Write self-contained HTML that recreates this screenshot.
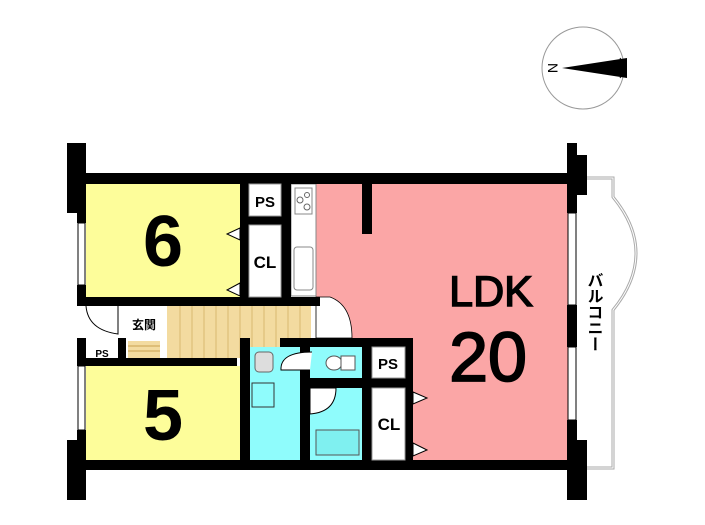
<!DOCTYPE html>
<html><head><meta charset="utf-8"><style>body{margin:0;background:#fff}svg{display:block}text{font-family:"Liberation Sans","Noto Sans CJK JP",sans-serif;font-weight:bold}</style></head><body>
<svg width="705" height="525" viewBox="0 0 705 525">
<!-- compass -->
<circle cx="583" cy="68" r="41" fill="#fff" stroke="#999" stroke-width="1"/>
<polygon points="562,68 627,58 627,78" fill="#000"/>
<path d="M620,58 Q626,68 620,78" fill="none" stroke="#000"/>
<text x="548" y="68" font-size="14" font-family="Liberation Serif" transform="rotate(90 548 68)" text-anchor="middle" style="font-weight:normal">N</text>
<!-- balcony -->
<path d="M587,178 H613 V197 Q636,225 636,253 Q636,282 613,310 V468 H587" fill="#fff" stroke="#aaa" stroke-width="3"/>
<path d="M587,178 H613 V197 Q636,225 636,253 Q636,282 613,310 V468 H587" fill="none" stroke="#fff" stroke-width="1"/>
<!-- rooms -->
<rect x="86" y="184" width="154" height="113" fill="#fdfd9a"/>
<rect x="86" y="366" width="154" height="94" fill="#fdfd9a"/>
<rect x="316" y="184" width="252" height="276" fill="#fba6a6"/>
<path d="M316,297 H330 Q352,305 352,338 H316 Z" fill="#fff" stroke="#000" stroke-width="0.8"/>
<rect x="167" y="306" width="144" height="52" fill="#f3dba0"/>
<g stroke="#d8b870" stroke-width="1">
<line x1="180" y1="306" x2="180" y2="358"/><line x1="192" y1="306" x2="192" y2="358"/><line x1="204" y1="306" x2="204" y2="358"/><line x1="216" y1="306" x2="216" y2="358"/><line x1="228" y1="306" x2="228" y2="358"/><line x1="240" y1="306" x2="240" y2="358"/><line x1="252" y1="306" x2="252" y2="358"/><line x1="264" y1="306" x2="264" y2="358"/><line x1="276" y1="306" x2="276" y2="358"/><line x1="288" y1="306" x2="288" y2="358"/><line x1="300" y1="306" x2="300" y2="358"/></g>
<rect x="128" y="341" width="32" height="17" fill="#f3dba0"/>
<g stroke="#c9a050"><line x1="128" y1="346" x2="160" y2="346"/><line x1="128" y1="351" x2="160" y2="351"/></g>
<rect x="250" y="347" width="50" height="113" fill="#8ffcfc"/>
<rect x="310" y="347" width="52" height="31" fill="#8ffcfc"/>
<rect x="310" y="388" width="52" height="72" fill="#8ffcfc"/>
<rect x="316" y="430" width="43" height="25" fill="#7ff0f0" stroke="#555"/>
<!-- kitchen -->
<rect x="291" y="184" width="25" height="112" fill="#fff" stroke="#888"/>
<rect x="295" y="188" width="17" height="26" fill="#fff" stroke="#888"/>
<circle cx="300" cy="200" r="3" fill="none" stroke="#666"/><circle cx="307" cy="195" r="2.5" fill="none" stroke="#666"/><circle cx="307" cy="207" r="3" fill="none" stroke="#666"/>
<rect x="294" y="247" width="19" height="43" rx="3" fill="#fff" stroke="#888"/>
<!-- walls -->
<g fill="#000">
<rect x="77" y="173" width="500" height="11"/>
<rect x="67" y="143" width="19" height="70"/>
<rect x="77" y="213" width="9" height="10"/>
<rect x="77" y="285" width="9" height="20"/>
<rect x="77" y="297" width="200" height="9"/>
<rect x="240" y="184" width="9" height="121"/>
<rect x="249" y="216" width="32" height="9"/>
<rect x="281" y="184" width="10" height="121"/>
<rect x="240" y="297" width="80" height="9"/>
<rect x="362" y="184" width="10" height="50"/>
<rect x="77" y="338" width="9" height="28"/>
<rect x="118" y="338" width="8" height="20"/>
<rect x="77" y="358" width="160" height="8"/>
<rect x="240" y="338" width="10" height="122"/>
<rect x="280" y="338" width="132" height="9"/>
<rect x="300" y="347" width="10" height="113"/>
<rect x="300" y="378" width="105" height="10"/>
<rect x="362" y="347" width="10" height="113"/>
<rect x="405" y="338" width="8" height="122"/>
<rect x="77" y="460" width="500" height="10"/>
<rect x="67" y="440" width="19" height="60"/>
<rect x="77" y="430" width="9" height="12"/>
<rect x="567" y="143" width="10" height="70"/>
<rect x="567" y="155" width="20" height="40"/>
<rect x="567" y="305" width="10" height="42"/>
<rect x="567" y="440" width="20" height="60"/>
<rect x="567" y="420" width="10" height="40"/>
</g>
<!-- windows -->
<g fill="#fff" stroke="#000" stroke-width="1">
<rect x="78" y="223" width="7" height="62"/><rect x="78" y="366" width="7" height="64"/>
<rect x="568" y="213" width="8" height="92"/><rect x="568" y="347" width="8" height="73"/>
<line x1="181" y1="299" x2="205" y2="299" stroke-dasharray="2,1"/><line x1="181" y1="364" x2="205" y2="364" stroke-dasharray="2,1"/>
</g>
<!-- white boxes -->
<g fill="#fff" stroke="#999"><rect x="249" y="184" width="32" height="32"/><rect x="249" y="225" width="32" height="72"/><rect x="372" y="347" width="33" height="31"/><rect x="372" y="388" width="33" height="72"/></g>
<!-- closet door triangles -->
<g fill="#fff" stroke="#000"><polygon points="240,228 227,234 240,240"/><polygon points="240,283 227,290 240,296"/><polygon points="413,392 427,398 413,404"/><polygon points="413,443 427,450 413,456"/></g>
<!-- doors -->
<path d="M86,306 Q88,330 118,334 V306" fill="#fff" stroke="#000"/>
<path d="M312,352 Q280,352 281,370 H310" fill="#fff" stroke="#000"/>
<path d="M310,388 H336 Q336,412 310,414 Z" fill="#fff" stroke="#000"/>
<rect x="255" y="352" width="18" height="20" rx="4" fill="#ddd" stroke="#666"/>
<rect x="252" y="383" width="22" height="24" fill="none" stroke="#333"/>
<ellipse cx="334" cy="363" rx="8" ry="7" fill="#fff" stroke="#555"/><rect x="341" y="356" width="14" height="14" fill="#fff" stroke="#555"/>
<!-- labels -->
<text x="163" y="266" font-size="72" text-anchor="middle">6</text>
<text x="163" y="440" font-size="72" text-anchor="middle">5</text>
<text x="265" y="207" font-size="15" text-anchor="middle">PS</text>
<text x="265" y="268" font-size="17" text-anchor="middle">CL</text>
<text x="388" y="369" font-size="15" text-anchor="middle">PS</text>
<text x="389" y="430" font-size="17" text-anchor="middle">CL</text>
<text x="102" y="357" font-size="10" text-anchor="middle">PS</text>
<text x="144" y="329" font-size="12" text-anchor="middle">玄関</text>
<text x="491" y="306" font-size="43" text-anchor="middle" style="font-weight:normal;stroke:#000;stroke-width:1.5">LDK</text>
<text x="488" y="381" font-size="70" text-anchor="middle" style="font-weight:normal;stroke:#000;stroke-width:1.8">20</text>
<text x="593" y="272" font-size="16" style="writing-mode:vertical-rl">バルコニー</text>
</svg>
</body></html>
